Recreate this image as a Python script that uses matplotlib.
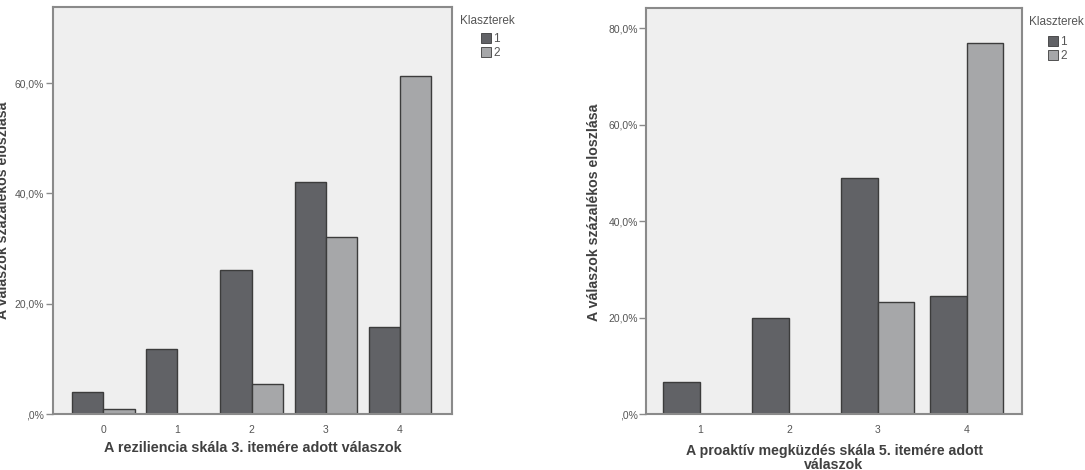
import numpy as np
import matplotlib.pyplot as plt
from matplotlib.patches import Rectangle
from matplotlib.ticker import FuncFormatter

plt.rcParams['font.family'] = ['Liberation Sans', 'DejaVu Sans']

# --- data (percent) ---
left_cats = ['0', '1', '2', '3', '4']
left_c1 = [3.9, 11.8, 26.2, 42.1, 15.8]
left_c2 = [0.85, 0.0, 5.4, 32.1, 61.3]

right_cats = ['1', '2', '3', '4']
right_c1 = [6.7, 20.0, 49.0, 24.5]
right_c2 = [0.1, 0.1, 23.3, 77.0]

cluster_labels = ['1', '2']
legend_title = 'Klaszterek'
y_label = 'A válaszok százalékos eloszlása'
left_xlabel = 'A reziliencia skála 3. itemére adott válaszok'
right_xlabel = ['A proaktív megküzdés skála 5. itemére adott', 'válaszok']

dark = '#616266'
light = '#a6a7a9'
edge = '#3c3c3c'
frame = '#8a8a8a'
txt = '#555555'
lab = '#404040'

W, H = 1085, 470


def pct(v, pos):
    return ',0%' if v == 0 else f'{v:.1f}%'.replace('.', ',')


def panel(ax, cats, c1, c2, width, xlim, ylim, yticks):
    x = np.arange(len(cats), dtype=float)
    ax.bar(x - width / 2, c1, width, color=dark, edgecolor=edge, linewidth=1.0)
    ax.bar(x + width / 2, c2, width, color=light, edgecolor=edge, linewidth=1.0)
    ax.set_facecolor('#efefef')
    ax.set_xlim(*xlim)
    ax.set_ylim(*ylim)
    ax.set_xticks(x)
    ax.set_xticklabels(cats)
    ax.set_yticks(yticks)
    ax.yaxis.set_major_formatter(FuncFormatter(pct))
    ax.tick_params(axis='x', length=0, labelsize=7.5, colors=txt, pad=8)
    ax.tick_params(axis='y', length=5, width=1, labelsize=7.5, colors=txt, pad=1, color=frame)
    for s in ax.spines.values():
        s.set_color(frame)
        s.set_linewidth(1.5)


def legend(fig, tx, ty, px, py):
    fig.text(tx / W, 1 - ty / H, legend_title, ha='left', va='center',
             fontsize=8.5, color=txt)
    for i, (lbl, col) in enumerate(zip(cluster_labels, [dark, light])):
        y0 = py + i * 14
        fig.patches.append(Rectangle((px / W, 1 - (y0 + 10) / H), 10 / W, 10 / H,
                                     transform=fig.transFigure, facecolor=col,
                                     edgecolor=edge, linewidth=0.6))
        fig.text((px + 12) / W, 1 - (y0 + 6) / H, lbl, ha='left', va='center',
                 fontsize=8.5, color=txt)


fig = plt.figure(figsize=(10.85, 4.70), dpi=100)

ax1 = fig.add_axes([52.7 / W, 1 - 414 / H, (451.7 - 52.7) / W, (414 - 7) / H])
panel(ax1, left_cats, left_c1, left_c2, 0.42, (-0.684, 4.70), (0, 73.8), [0, 20, 40, 60])

ax2 = fig.add_axes([646 / W, 1 - 414 / H, (1021.7 - 646) / W, (414 - 8) / H])
panel(ax2, right_cats, right_c1, right_c2, 0.41, (-0.606, 3.617), (0, 84.2), [0, 20, 40, 60, 80])

# axis titles
fig.text(253 / W, 1 - 448 / H, left_xlabel, ha='center', va='center',
         fontsize=10.4, fontweight='bold', color=lab)
fig.text(834 / W, 1 - 451.5 / H, right_xlabel[0], ha='center', va='center',
         fontsize=10.2, fontweight='bold', color=lab)
fig.text(834 / W, 1 - 465 / H, right_xlabel[1], ha='center', va='center',
         fontsize=10.2, fontweight='bold', color=lab)
fig.text(3 / W, 1 - 210 / H, y_label, rotation=90, ha='center', va='center',
         fontsize=10.2, fontweight='bold', color=lab)
fig.text(594 / W, 1 - 212 / H, y_label, rotation=90, ha='center', va='center',
         fontsize=10.2, fontweight='bold', color=lab)

# legends
legend(fig, 460, 21, 481, 33)
legend(fig, 1029, 22, 1048, 36)

fig.savefig('out.png', dpi=100, facecolor='white')
